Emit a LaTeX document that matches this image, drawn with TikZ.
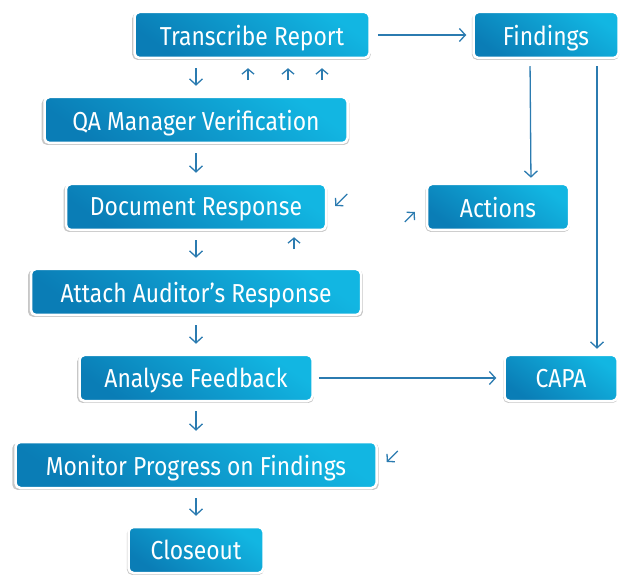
\documentclass[tikz,border=0pt]{standalone}
\usepackage{fontspec}
\setsansfont[FakeStretch=0.88]{Fira Sans}
\usepackage{tikz}
\usetikzlibrary{positioning, arrows.meta, shadows}

\definecolor{boxdark}{HTML}{0A7DB6}
\definecolor{boxlight}{HTML}{12B6E2}
\definecolor{arrowblue}{HTML}{2B7BB0}

\begin{document}
\begin{tikzpicture}[x=1pt, y=-1pt, on grid,
    box/.style={rounded corners=5pt, draw=white, line width=2.5pt,
        top color=boxlight, bottom color=boxdark, shading angle=-35,
        drop shadow={shadow xshift=-0.5pt, shadow yshift=-1.5pt, shadow scale=1.015,
            opacity=0.4, fill=black!55},
        minimum height=46pt, text=white, text depth=0pt,
        font=\sffamily\fontsize{26}{30}\selectfont},
    arr/.style={draw=arrowblue, line width=1.3pt, -{Straight Barb[length=6pt, width=13pt]}},
    tick/.style={arr, shorten <=9pt, shorten >=10pt}]
    \useasboundingbox (0,0) rectangle (624,577);

    \node[box, minimum width=235pt] (tr) at (252,35) {Transcribe Report};
    \node[box, minimum width=145pt] (fin) at (546,35) {Findings};
    \node[box, minimum width=303pt] (qa) at (196,120) {QA Manager Verification};
    \node[box, minimum width=260pt] (doc) [below=87pt of qa] {Document Response};
    \node[box, minimum width=142pt] (act) [right=302pt of doc] {Actions};
    \node[box, minimum width=330pt] (att) [below=85pt of doc] {Attach Auditor’s Response};
    \node[box, minimum width=233pt] (ana) [below=86pt of att] {Analyse Feedback};
    \node[box, minimum width=113pt] (capa) [right=365pt of ana] {CAPA};
    \node[box, minimum width=361pt] (mon) [below=87pt of ana] {Monitor Progress on Findings};
    \node[box, minimum width=135pt] (close) [below=85pt of mon] {Closeout};

    % down the left column
    \draw[tick] (tr.south -| qa.north) -- (qa.north);
    \draw[tick] (qa.south) -- (doc.north -| qa.south);
    \draw[tick] (doc.south) -- (att.north -| doc.south);
    \draw[tick] (att.south) -- (ana.north);
    \draw[tick] (ana.south) -- (mon.north);
    \draw[tick] (mon.south) -- (close.north);

    % long connectors
    \draw[arr, shorten <=7pt, shorten >=6pt] (tr) -- (fin);
    \draw[arr, shorten <=7pt, shorten >=5pt] ([xshift=-16pt]fin.south) -- ([xshift=33pt]act.north);
    \draw[arr, shorten <=7pt, shorten >=5pt] ([xshift=51pt]fin.south) -- ([xshift=36pt]capa.north);
    \draw[arr, shorten <=5pt, shorten >=7pt] (ana) -- (capa);

    % loose little arrows
    \coordinate (up1) at ([xshift=-4pt, yshift=-21pt]tr.south);
    \coordinate (up2) at ([xshift=36pt, yshift=-21pt]tr.south);
    \coordinate (up3) at ([xshift=70pt, yshift=-21pt]tr.south);
    \coordinate (up4) at ([xshift=98pt, yshift=-18pt]doc.south);
    \coordinate (sw1) at ([xshift=20pt, yshift=13pt]doc.east);
    \coordinate (ne1) at ([xshift=-21pt, yshift=-15pt]act.west);
    \coordinate (sw2) at ([xshift=20pt, yshift=14pt]mon.east);
    \foreach \c in {up1, up2, up3, up4}
        \draw[arr, -{Straight Barb[length=5pt, width=12pt]}] (\c) -- ++(0,-12);
    \draw[arr, -{Straight Barb[length=5pt, width=11pt]}] (sw1) -- ++(-12,12);
    \draw[arr, -{Straight Barb[length=5pt, width=11pt]}] (ne1) -- ++(10,-10);
    \draw[arr, -{Straight Barb[length=5pt, width=11pt]}] (sw2) -- ++(-11,11);
\end{tikzpicture}
\end{document}
